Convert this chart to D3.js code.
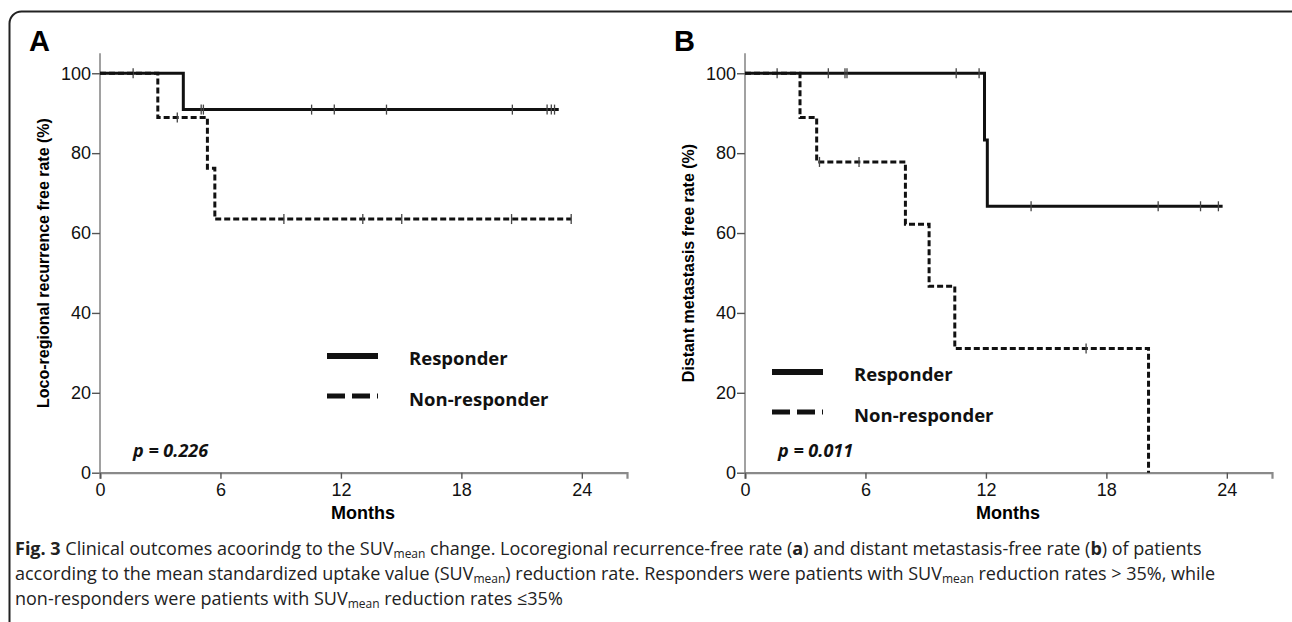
<!DOCTYPE html>
<html>
<head>
<meta charset="utf-8">
<script src="https://cdn.jsdelivr.net/npm/d3@7"></script>
<style>
  body { margin: 0; background: #fff; }
  svg { display: block; }
  .tick text { font-family: "Liberation Sans", Arial, sans-serif; font-size: 18px; fill: #111; }
</style>
</head>
<body>
<svg width="1292" height="622"></svg>
<script>
// ---- data (months, survival %) ----
const xTicks = [0, 6, 12, 18, 24];
const yTicks = [0, 20, 40, 60, 80, 100];

// panel A : loco-regional recurrence free rate
const respA_t   = [0, 4.15, 22.85];
const respA_s   = [100, 90.9, 90.9];
const respA_cens = [1.65, 5.04, 5.15, 10.54, 11.67, 14.27, 20.54, 22.27, 22.48, 22.64];
const nonA_t    = [0, 2.88, 5.35, 5.72, 23.47];
const nonA_s    = [100, 88.9, 76.2, 63.5, 63.5];
const nonA_cens = [3.85, 9.16, 13.09, 15.03, 20.5, 23.47];

// panel B : distant metastasis free rate
const respB_t   = [0, 11.93, 12.07, 23.79];
const respB_s   = [100, 83.3, 66.7, 66.7];
const respB_cens = [1.6, 4.15, 4.98, 5.08, 10.52, 11.66, 14.25, 20.58, 22.69, 23.58];
const nonB_t    = [0, 2.74, 3.57, 7.99, 9.17, 10.45, 20.1];
const nonB_s    = [100, 88.9, 77.8, 62.2, 46.7, 31.1, 0];
const nonB_cens = [3.71, 5.68, 16.99];

const svg = d3.select("svg");

// rounded frame around figure
svg.append("rect")
    .attr("x", 9.5).attr("y", 11.5)
    .attr("width", 1300).attr("height", 640)
    .attr("rx", 12)
    .attr("fill", "none")
    .attr("stroke", "#222")
    .attr("stroke-width", 2);

function stepValue(ts, ss, t) {
    let v = ss[0];
    for (let i = 0; i < ts.length; i++) if (ts[i] <= t) v = ss[i];
    return v;
}

function drawPanel(p) {
    const x = d3.scaleLinear().domain([0, 26.25]).range([p.x0, p.x0 + 527]);
    const y = d3.scaleLinear().domain([0, 105]).range([472.7, 53.3]);
    const g = svg.append("g");

    // axes
    const yAxis = g.append("g")
        .attr("transform", `translate(${p.x0},0)`)
        .call(d3.axisLeft(y).tickValues(yTicks).tickSize(8).tickPadding(1));
    const xAxis = g.append("g")
        .attr("transform", "translate(0,472.7)")
        .call(d3.axisBottom(x).tickValues(xTicks).tickSize(6).tickPadding(5));
    [yAxis, xAxis].forEach(a => {
        a.select(".domain").attr("stroke", "#8a8a8a").attr("stroke-width", 1.6);
        a.selectAll(".tick line").attr("stroke", "#555").attr("stroke-width", 1.4);
    });
    xAxis.select(".domain").attr("stroke-width", 2.2);
    yAxis.select(".domain").attr("d", `M0,${y(105)}V${y(0)}`);

    const line = d3.line().x(d => x(d[0])).y(d => y(d[1])).curve(d3.curveStepAfter);

    p.series.forEach(s => {
        const pts = s.t.map((t, i) => [t, s.s[i]]);
        g.append("path")
            .attr("d", line(pts))
            .attr("fill", "none")
            .attr("stroke", "#111")
            .attr("stroke-width", 3)
            .attr("stroke-dasharray", s.dash ? "6,3" : null);
        g.selectAll(null)
            .data(s.cens)
            .enter()
            .append("line")
            .attr("x1", d => x(d)).attr("x2", d => x(d))
            .attr("y1", d => y(stepValue(s.t, s.s, d)) - 5)
            .attr("y2", d => y(stepValue(s.t, s.s, d)) + 5)
            .attr("stroke", "#444")
            .attr("stroke-width", 1.3);
    });

    // panel letter
    g.append("text")
        .attr("x", p.x0 - 71).attr("y", 50.7)
        .attr("font-family", "Liberation Sans, Arial, sans-serif")
        .attr("font-weight", "bold").attr("font-size", 29)
        .text(p.letter);

    // y label
    g.append("text")
        .attr("transform", `translate(${p.x0 - 51},263) rotate(-90)`)
        .attr("text-anchor", "middle")
        .attr("font-family", "Liberation Sans, Arial, sans-serif")
        .attr("font-weight", "bold").attr("font-size", 16)
        .text(p.ylabel);

    // x label
    g.append("text")
        .attr("x", x(13.1)).attr("y", 519)
        .attr("text-anchor", "middle")
        .attr("font-family", "Liberation Sans, Arial, sans-serif")
        .attr("font-weight", "bold").attr("font-size", 18)
        .text("Months");

    // legend
    const lg = g.append("g").attr("transform", `translate(${p.legX},${p.legY})`);
    lg.append("line").attr("x1", 0).attr("x2", 51).attr("y1", 0).attr("y2", 0)
        .attr("stroke", "#111").attr("stroke-width", 6);
    lg.append("line").attr("x1", 0).attr("x2", 51).attr("y1", 40).attr("y2", 40)
        .attr("stroke", "#111").attr("stroke-width", 5).attr("stroke-dasharray", "18,7");
    lg.selectAll("text")
        .data(["Responder", "Non-responder"])
        .enter()
        .append("text")
        .attr("x", 82).attr("y", (d, i) => 9 + i * 41)
        .attr("font-family", "Open Sans, sans-serif")
        .attr("font-weight", "bold").attr("font-size", 18.5)
        .attr("fill", "#111")
        .text(d => d);

    // p value
    g.append("text")
        .attr("x", p.x0 + 33).attr("y", 457)
        .attr("font-family", "Open Sans, sans-serif")
        .attr("font-weight", "bold").attr("font-style", "italic").attr("font-size", 18)
        .attr("fill", "#111")
        .text(p.pval);
}

drawPanel({
    x0: 100, letter: "A", ylabel: "Loco-regional recurrence free rate (%)",
    legX: 327, legY: 356, pval: "p = 0.226",
    series: [
        { t: respA_t, s: respA_s, cens: respA_cens, dash: false },
        { t: nonA_t, s: nonA_s, cens: nonA_cens, dash: true }
    ]
});
drawPanel({
    x0: 745, letter: "B", ylabel: "Distant metastasis free rate (%)",
    legX: 772, legY: 372, pval: "p = 0.011",
    series: [
        { t: respB_t, s: respB_s, cens: respB_cens, dash: false },
        { t: nonB_t, s: nonB_s, cens: nonB_cens, dash: true }
    ]
});

// caption
const capLines = [
    [["Fig. 3", "b"], [" Clinical outcomes acoorindg to the SUV"], ["mean", "sub"], [" change. Locoregional recurrence-free rate ("], ["a", "b"], [") and distant metastasis-free rate ("], ["b", "b"], [") of patients"]],
    [["according to the mean standardized uptake value (SUV"], ["mean", "sub"], [") reduction rate. Responders were patients with SUV"], ["mean", "sub"], [" reduction rates > 35%, while"]],
    [["non-responders were patients with SUV"], ["mean", "sub"], [" reduction rates \u226435%"]]
];
const cap = svg.append("g")
    .attr("font-family", "Open Sans, sans-serif")
    .attr("font-size", 18)
    .attr("fill", "#222");
capLines.forEach((parts, i) => {
    const t = cap.append("text").attr("x", 15).attr("y", 555 + i * 25);
    let shifted = false;
    parts.forEach(([txt, kind]) => {
        const ts = t.append("tspan").text(txt);
        if (kind === "b") ts.attr("font-weight", "bold");
        if (kind === "sub") { ts.attr("font-size", 12).attr("dy", 3); shifted = true; }
        else if (shifted) { ts.attr("dy", -3); shifted = false; }
    });
});
</script>
</body>
</html>
